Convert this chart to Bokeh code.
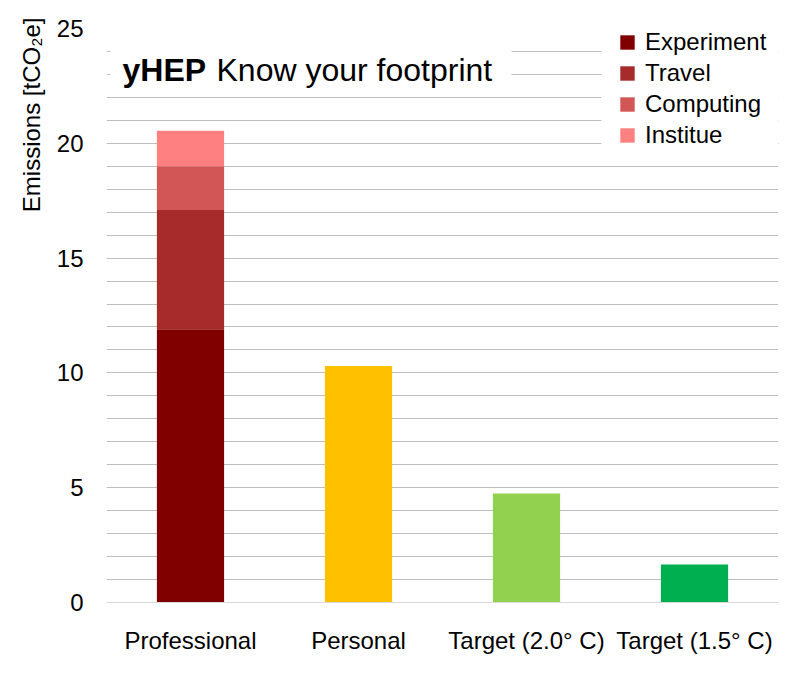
import math
from bokeh.plotting import figure
from bokeh.models import (FactorRange, Range1d, SingleIntervalTicker, Label,
                          BoxAnnotation, ColumnDataSource, Legend, Title)
from bokeh.embed import file_html
from bokeh.resources import INLINE

categories = ["Professional", "Personal", "Target (2.0° C)", "Target (1.5° C)"]
components = ["Experiment", "Travel", "Computing", "Institue"]
component_colors = ["#800000", "#a72b2b", "#d25656", "#ff8080"]
professional_values = [11.9, 5.2, 1.9, 1.55]
other_categories = ["Personal", "Target (2.0° C)", "Target (1.5° C)"]
other_values = [10.3, 4.75, 1.65]
other_colors = ["#ffc000", "#92d050", "#00b050"]

FONT = "Liberation Sans"

p = figure(width=785, height=686, x_range=FactorRange(*categories, range_padding=0),
           y_range=Range1d(0, 25), output_backend="svg", toolbar_location=None,
           min_border_left=106, min_border_right=7, min_border_top=28, min_border_bottom=84)
p.outline_line_color = None
p.background_fill_color = "white"

stack_data = {"x": ["Professional"]}
for name, v in zip(components, professional_values):
    stack_data[name] = [v]
src = ColumnDataSource(stack_data)
renderers = p.vbar_stack(components, x="x", width=0.4, color=component_colors,
                         line_color=None, source=src)

other_src = ColumnDataSource(dict(x=other_categories, top=other_values, color=other_colors))
p.vbar(x="x", top="top", width=0.4, color="color", line_color=None, source=other_src)

# axes
p.yaxis.ticker = SingleIntervalTicker(interval=5, num_minor_ticks=5)
p.yaxis.axis_line_color = None
p.yaxis.major_tick_line_color = None
p.yaxis.minor_tick_line_color = None
p.yaxis.major_label_text_font = FONT
p.yaxis.major_label_text_font_size = "24px"
p.yaxis.major_label_text_color = "black"
p.yaxis.major_label_standoff = 17

p.xaxis.axis_line_color = "#d9d9d9"
p.xaxis.major_tick_line_color = None
p.xaxis.minor_tick_line_color = None
p.xaxis.major_label_text_font = FONT
p.xaxis.major_label_text_font_size = "24px"
p.xaxis.major_label_text_color = "black"
p.xaxis.major_label_standoff = 18

p.xgrid.grid_line_color = None
p.ygrid.grid_line_color = "#bfbfbf"
p.ygrid.minor_grid_line_color = "#bfbfbf"

# y axis title, placed near the top of the left side
p.add_layout(Title(text="Emissions [tCO₂e]", align="right", offset=-11, standoff=18,
                   text_font=FONT, text_font_size="24px", text_font_style="normal",
                   text_color="black"), "left")

# chart title with white box
p.add_layout(BoxAnnotation(left=4, right=405, bottom=508, top=566,
                           left_units="screen", right_units="screen",
                           bottom_units="screen", top_units="screen",
                           fill_color="white", fill_alpha=1, line_color=None))
p.add_layout(Label(x=16, y=533, x_units="screen", y_units="screen", text="yHEP",
                   text_font=FONT, text_font_style="bold", text_font_size="32px",
                   text_baseline="alphabetic", text_color="black"))
p.add_layout(Label(x=110, y=533, x_units="screen", y_units="screen",
                   text="Know your footprint", text_font=FONT, text_font_size="32px",
                   text_baseline="alphabetic", text_color="black"))

# white area behind the legend
p.add_layout(BoxAnnotation(left=495, right=669, bottom=450, top=580,
                           left_units="screen", right_units="screen",
                           bottom_units="screen", top_units="screen",
                           fill_color="white", fill_alpha=1, line_color=None))

legend = Legend(items=[(name, [r]) for name, r in zip(components, renderers)],
                location="top_right")
legend.border_line_color = None
legend.background_fill_color = "white"
legend.background_fill_alpha = 1
legend.label_text_font = FONT
legend.label_text_font_size = "24px"
legend.label_text_color = "black"
legend.glyph_width = 18
legend.glyph_height = 18
legend.label_standoff = 9
legend.label_width = 133
legend.spacing = 3
legend.padding = 1
legend.margin = 0
p.add_layout(legend)

open("out.html", "w").write(file_html(p, INLINE))
